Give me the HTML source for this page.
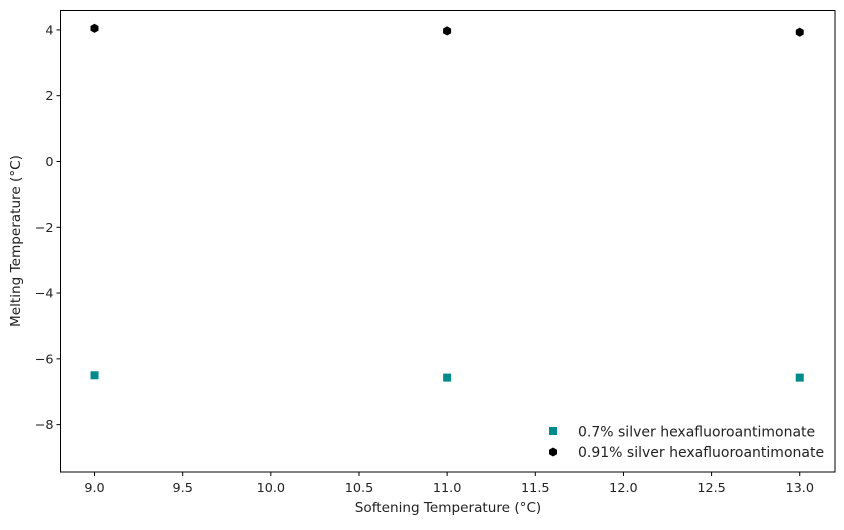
<!DOCTYPE html>
<html><head><meta charset="utf-8"><style>
body{margin:0;background:#fff;}
svg text{font-family:"DejaVu Sans","Liberation Sans",sans-serif;font-size:14px;fill:#222;}
svg text.tick{font-size:12.8px;}
</style></head><body>
<svg id="chart" width="844" height="525" xmlns="http://www.w3.org/2000/svg">
<g id="grid"></g>
<g id="marks"></g>
<rect x="60.5" y="10.5" width="774.5" height="461.5" fill="none" stroke="#000" stroke-width="1"/>
<text x="448" y="512" text-anchor="middle" style="font-size:13.6px">Softening Temperature (°C)</text>
<text transform="translate(20,241) rotate(-90)" text-anchor="middle" style="font-size:13.6px">Melting Temperature (°C)</text>
<g>
<rect x="549" y="427" width="8" height="8" fill="#008b8b"/>
<text x="578" y="436.5">0.7% silver hexafluoroantimonate</text>
<polygon points="553,447.5 557,449.8 557,454.2 553,456.5 549,454.2 549,449.8" fill="#000"/>
<text x="578" y="457">0.91% silver hexafluoroantimonate</text>
</g>
</svg>
<script>
const categories = [9, 11, 13];
const series07 = [-6.5, -6.57, -6.57];
const series091 = [4.05, 3.97, 3.93];
const xTicks = [9.0, 9.5, 10.0, 10.5, 11.0, 11.5, 12.0, 12.5, 13.0];
const yTicks = [4, 2, 0, -2, -4, -6, -8];
const X0=8.807, X1=13.2, Y0=-9.44, Y1=4.59;
const L=60.5, R=835, T=10.5, B=472;
function sx(v){return L+(v-X0)/(X1-X0)*(R-L);}
function sy(v){return B-(v-Y0)/(Y1-Y0)*(B-T);}
const NS="http://www.w3.org/2000/svg";
const grid=document.getElementById('grid'), marks=document.getElementById('marks');
function mk(tag,attrs,parent){const e=document.createElementNS(NS,tag);for(const k in attrs)e.setAttribute(k,attrs[k]);parent.appendChild(e);return e;}
xTicks.forEach(v=>{
  const x=sx(v);
  const l=mk('line',{x1:x,x2:x,y1:B,y2:B+4,stroke:'#000'},grid);
  
  
  const t=mk('text',{x:x,y:B+20,'text-anchor':'middle','class':'tick'},grid);
  t.textContent=v.toFixed(1);
  
  
});
yTicks.forEach(v=>{
  const y=sy(v);
  const l=mk('line',{x1:L-4,x2:L,y1:y,y2:y,stroke:'#000'},grid);
  
  
  const t=mk('text',{x:L-7,y:y+4.5,'text-anchor':'end','class':'tick'},grid);
  t.textContent=v<0?'\u2212'+Math.abs(v):String(v);
  
  
});
categories.forEach((c,i)=>{
  const x=sx(c), y=sy(series07[i]);
  const r=mk('rect',{x:x-4,y:y-4,width:8,height:8,fill:'#008b8b'},marks);
  
  
  const y2=sy(series091[i]);
  const pts=[];for(let k=0;k<6;k++){const a=Math.PI/2+k*Math.PI/3;pts.push((x+4.6*Math.cos(a)).toFixed(1)+','+(y2-4.6*Math.sin(a)).toFixed(1));}
  const h=mk('polygon',{points:pts.join(' '),fill:'#000'},marks);
  
  
});
</script>
</body></html>
